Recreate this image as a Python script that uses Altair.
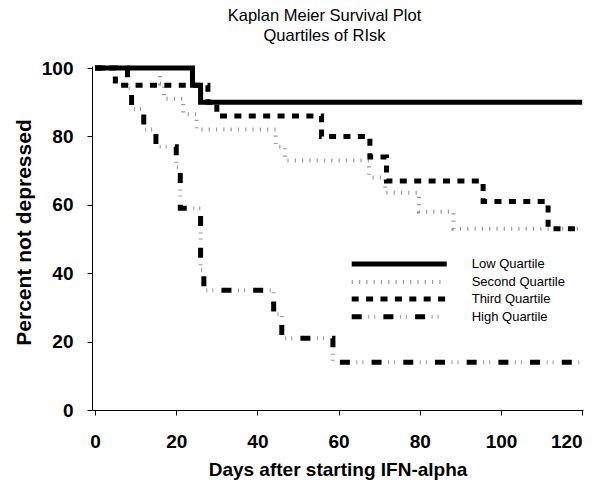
import altair as alt
import pandas as pd

# ---- data ----
series_names = ["Low Quartile", "Second Quartile", "Third Quartile", "High Quartile"]

low_days = [0, 24, 26, 120]
low_pct = [100, 95, 90, 90]

second_days = [0, 16, 17, 21.7, 25, 44.5, 46.8, 67.5, 71.5, 79.8, 88.3, 120]
second_pct = [100, 95.5, 91, 86.5, 82, 77, 73, 68, 63.5, 58, 53, 53]

third_days = [0, 5, 27.8, 30, 55.8, 67.7, 71.8, 95.6, 111.6, 120]
third_pct = [100, 95, 90, 86, 80, 74, 67, 61, 53, 53]

high_days = [0, 8, 9, 12, 15, 20, 21, 26, 26.8, 44, 46, 58.6, 120]
high_pct = [100, 94, 88, 82, 77, 71, 59, 41, 35, 28, 21, 14, 14]

x_ticks = [0, 20, 40, 60, 80, 100, 120]
y_ticks = [0, 20, 40, 60, 80, 100]

title_lines = ["Kaplan Meier Survival Plot", "Quartiles of RIsk"]
x_title = "Days after starting IFN-alpha"
y_title = "Percent not depressed"

FONT = "Liberation Sans"

xscale = alt.Scale(domain=[-0.75, 120.2], nice=False, zero=False)
yscale = alt.Scale(domain=[0, 100.6], nice=False, zero=False)

xaxis = alt.Axis(values=x_ticks, tickSize=5, labelPadding=17, grid=False,
                 title=x_title, titleFontSize=19, titleY=65,
                 titleBaseline="alphabetic")
yaxis = alt.Axis(values=y_ticks, tickSize=5, labelPadding=14, grid=False,
                 title=y_title, titleFontSize=21, titleX=-62, titleY=166,
                 titleAngle=270, titleBaseline="alphabetic")


def km_line(days, pct, name, **mark_kw):
    df = pd.DataFrame({"day": days, "pct": pct,
                       "step": list(range(len(days))), "series": name})
    return alt.Chart(df).mark_line(interpolate="step-after", **mark_kw).encode(
        x=alt.X("day:Q", scale=xscale, axis=xaxis),
        y=alt.Y("pct:Q", scale=yscale, axis=yaxis),
        order="step:Q",
    )


styles = {
    "Low Quartile": [dict(color="black", strokeWidth=5)],
    "Second Quartile": [dict(color="#9a9a9a", strokeWidth=4, strokeDash=[1.2, 6.1], strokeCap="butt")],
    "Third Quartile": [dict(color="black", strokeWidth=5, strokeDash=[7, 7.4], strokeCap="butt")],
    "High Quartile": [
        dict(color="black", strokeWidth=5, strokeDash=[10, 21.7], strokeCap="butt"),
        dict(color="#9a9a9a", strokeWidth=4, strokeDash=[1, 5, 1, 24.7],
             strokeDashOffset=15.2, strokeCap="butt"),
    ],
}

data_map = {
    "Low Quartile": (low_days, low_pct),
    "Second Quartile": (second_days, second_pct),
    "Third Quartile": (third_days, third_pct),
    "High Quartile": (high_days, high_pct),
}

layers = []
for name in ["Second Quartile", "High Quartile", "Third Quartile", "Low Quartile"]:
    d, p = data_map[name]
    for st in styles[name]:
        layers.append(km_line(d, p, name, **st))

# ---- in-plot legend ----
leg_x1, leg_x2, leg_tx = 259.7, 354.7, 379.7
leg_rows = [198, 216, 233, 250.7]
for name, ly in zip(series_names, leg_rows):
    one = pd.DataFrame({"series": [name]})
    for st in styles[name]:
        layers.append(alt.Chart(one).mark_rule(**st).encode(
            x=alt.value(leg_x1), x2=alt.value(leg_x2), y=alt.value(ly)))
    layers.append(alt.Chart(one).mark_text(
        align="left", baseline="middle", font=FONT, fontSize=13, color="black"
    ).encode(x=alt.value(leg_tx), y=alt.value(ly), text="series:N"))

chart = alt.layer(*layers).properties(
    width=491, height=344,
    autosize=alt.AutoSizeParams(type="none"),
    padding={"left": 84, "top": 58, "right": 10, "bottom": 72},
    title=alt.Title(text=title_lines, font=FONT, fontSize=16.5, fontWeight="normal",
                    color="black", anchor="middle", dx=-13, offset=1,
                    baseline="alphabetic", lineHeight=20),
).configure_view(stroke=None).configure_axis(
    domainColor="black", tickColor="black", labelColor="black", titleColor="black",
    labelFont=FONT, titleFont=FONT, labelFontWeight="bold", titleFontWeight="bold",
    labelFontSize=19, domainWidth=1, tickWidth=1,
)

chart.save("out.html", embed_options={"renderer": "svg", "actions": False})
